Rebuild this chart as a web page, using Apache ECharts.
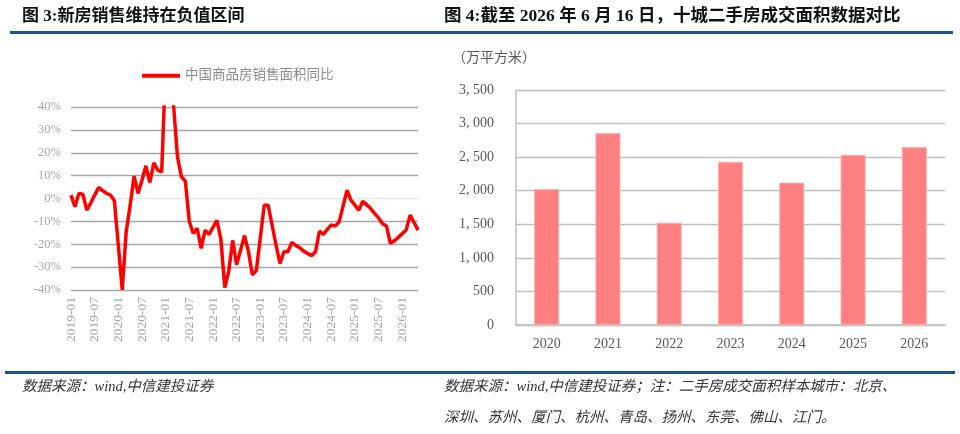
<!DOCTYPE html>
<html>
<head>
<meta charset="utf-8">
<script src="https://cdn.jsdelivr.net/npm/echarts@6/dist/echarts.min.js"></script>
<style>
  html, body { margin: 0; padding: 0; background: #fff; }
  #main { width: 960px; height: 434px; }
</style>
</head>
<body>
<div id="main"></div>
<script>
// 图3 新房销售面积同比（%），月度，1月并入1-2月故为空
const yoy2019 = [1.5, -3.6, 2.2, 1.9, -5.1, -2.0, 1.5, 4.8, 3.5, 2.3, 1.5, -1.0];
const yoy2020 = [null, -39.9, -14.5, -3.0, 9.8, 2.2, 8.0, 14.3, 7.0, 15.6, 12.4, 11.6];
const yoy2021 = [null, 105, 41, 18.2, 9.5, 7.6, -10.0, -15.3, -13.0, -21.8, -13.8, -15.7];
const yoy2022 = [null, -9.6, -17.7, -39.0, -31.8, -18.3, -28.9, -22.6, -16.2, -23.2, -33.3, -31.5];
const yoy2023 = [null, -3.0, -3.0, -11.6, -20.4, -28.4, -23.3, -23.3, -19.2, -20.5, -21.5, -23.0];
const yoy2024 = [null, -25.0, -23.3, -14.3, -15.7, -13.5, -11.5, -12.1, -10.2, -3.3, 3.6, -0.7];
const yoy2025 = [null, -5.1, -1.2, -2.8, -4.4, -6.5, -8.5, -11.0, -12.0, -19.6, -18.5, -17.0];
const yoy2026 = [null, -13.8, -7.3, -10.5, -13.8];

// 图4 十城二手房成交面积（万平方米）
const years = ['2020', '2021', '2022', '2023', '2024', '2025', '2026'];
const area = [2025, 2857, 1523, 2430, 2120, 2535, 2650];

const yoy = [].concat(yoy2019, yoy2020, yoy2021, yoy2022, yoy2023, yoy2024, yoy2025, yoy2026);
const months = [];
for (let i = 0; i < yoy.length; i++) {
    let y = 2019 + Math.floor(i / 12);
    let m = (i % 12) + 1;
    months.push(y + '-' + (m < 10 ? '0' + m : m));
}

const serif = '"Liberation Serif", "Noto Sans CJK SC", serif';
const cjk = '"Liberation Serif", "Noto Sans CJK SC", sans-serif';

const chart = echarts.init(document.getElementById('main'), null, { renderer: 'canvas' });

const gridGray = '#a6a6a6';
const option = {
    animation: false,
    backgroundColor: '#ffffff',
    legend: {
        data: ['中国商品房销售面积同比'],
        left: 137,
        top: 64,
        icon: 'rect',
        itemWidth: 38,
        itemHeight: 4,
        textStyle: { color: '#8c8c8c', fontSize: 13.5, fontFamily: cjk }
    },
    grid: [
        { left: 71, top: 107, width: 347, height: 183 },
        { left: 516, top: 90, width: 429, height: 235 }
    ],
    xAxis: [
        {
            type: 'category',
            gridIndex: 0,
            data: months,
            boundaryGap: false,
            axisLine: { show: false },
            axisTick: { show: false },
            axisLabel: {
                interval: 5,
                rotate: 90,
                margin: 7,
                color: '#a6a6a6',
                fontSize: 13.5,
                fontFamily: serif
            }
        },
        {
            type: 'category',
            gridIndex: 1,
            data: years,
            axisLine: { lineStyle: { color: '#bfbfbf', width: 1.5 } },
            axisTick: { show: false },
            axisLabel: { color: '#595959', fontSize: 14, fontFamily: serif, margin: 12 }
        }
    ],
    yAxis: [
        {
            type: 'value',
            gridIndex: 0,
            min: -40,
            max: 40,
            interval: 10,
            axisLine: { show: false },
            axisTick: { show: false },
            axisLabel: {
                formatter: '{value}%',
                color: '#a6a6a6',
                fontSize: 12.5,
                fontFamily: serif,
                margin: 10
            },
            splitLine: {
                lineStyle: {
                    // 0% 线较浅
                    color: [gridGray, gridGray, gridGray, gridGray, '#e8e8e8', gridGray, gridGray, gridGray, gridGray],
                    width: 1.3
                }
            }
        },
        {
            type: 'value',
            gridIndex: 1,
            min: 0,
            max: 3500,
            interval: 500,
            axisLine: { show: true, lineStyle: { color: '#bfbfbf', width: 1.5 } },
            axisTick: { show: false },
            axisLabel: {
                color: '#595959',
                fontSize: 14,
                fontFamily: serif,
                margin: 22,
                formatter: function (v) {
                    let s = String(v);
                    if (v >= 1000) s = Math.floor(v / 1000) + ', ' + String(v % 1000).padStart(3, '0');
                    return s;
                }
            },
            splitLine: { lineStyle: { color: '#bfbfbf', width: 1.3 } }
        }
    ],
    series: [
        {
            name: '中国商品房销售面积同比',
            type: 'line',
            xAxisIndex: 0,
            yAxisIndex: 0,
            data: yoy,
            connectNulls: true,
            symbol: 'none',
            clip: true,
            lineStyle: { color: '#ff0000', width: 3.5 },
            itemStyle: { color: '#ff0000' }
        },
        {
            name: '十城二手房成交面积',
            type: 'bar',
            xAxisIndex: 1,
            yAxisIndex: 1,
            data: area,
            barWidth: 25,
            itemStyle: { color: '#ff8080', borderColor: '#ffb3b3', borderWidth: 0.8 }
        }
    ],
    graphic: [
        {
            type: 'text', left: 22, top: 8,
            style: { text: '图 3:新房销售维持在负值区间', fill: '#111', font: 'bold 17px ' + cjk }
        },
        {
            type: 'text', left: 444, top: 8,
            style: { text: '图 4:截至 2026 年 6 月 16 日，十城二手房成交面积数据对比', fill: '#111', font: 'bold 17.5px ' + cjk }
        },
        {
            type: 'rect',
            shape: { x: 10, y: 31, width: 943, height: 3 },
            style: { fill: '#1f5286' }
        },
        {
            type: 'rect',
            shape: { x: 5, y: 371, width: 950, height: 3 },
            style: { fill: '#1f5286' }
        },
        {
            type: 'text', left: 452, top: 51,
            style: { text: '（万平方米）', fill: '#595959', font: '14px ' + cjk }
        },
        {
            type: 'text', left: 22, top: 380,
            style: { text: '数据来源：wind,中信建投证券', fill: '#333', font: 'italic 14.5px ' + cjk }
        },
        {
            type: 'text', left: 444, top: 380,
            style: { text: '数据来源：wind,中信建投证券；注：二手房成交面积样本城市：北京、', fill: '#333', font: 'italic 14.5px ' + cjk }
        },
        {
            type: 'text', left: 444, top: 411,
            style: { text: '深圳、苏州、厦门、杭州、青岛、扬州、东莞、佛山、江门。', fill: '#333', font: 'italic 14.5px ' + cjk }
        }
    ]
};

chart.setOption(option);
window.addEventListener('resize', chart.resize);
</script>
</body>
</html>
